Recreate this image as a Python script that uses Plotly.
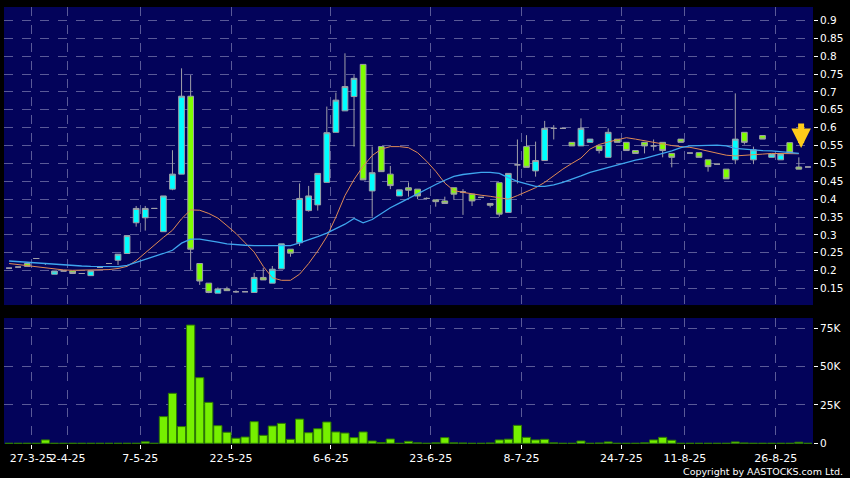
import plotly.graph_objects as go

# trading-day index of each candle
day = list(range(1, 90))

open_ = [0.207, 0.210, 0.220, 0.234, 0.220, 0.190, 0.199, 0.199, 0.192, 0.186,
         0.209, 0.220, 0.229, 0.248, 0.334, 0.348, 0.374, 0.309, 0.428, 0.470,
         0.688, 0.220, 0.165, 0.137, 0.149, 0.141, 0.141, 0.139, 0.181, 0.165,
         0.205, 0.260, 0.278, 0.368, 0.384, 0.447, 0.587, 0.647, 0.687, 0.777,
         0.423, 0.547, 0.470, 0.409, 0.432, 0.428, 0.402, 0.398, 0.395, 0.432,
         0.420, 0.414, 0.405, 0.388, 0.446, 0.363, 0.496, 0.547, 0.479, 0.508,
         0.598, 0.598, 0.559, 0.549, 0.559, 0.549, 0.517, 0.568, 0.559, 0.536,
         0.559, 0.549, 0.559, 0.528, 0.568, 0.529, 0.530, 0.510, 0.498, 0.484,
         0.510, 0.587, 0.510, 0.578, 0.517, 0.510, 0.558, 0.490, 0.490]
high = [0.207, 0.210, 0.220, 0.234, 0.220, 0.199, 0.199, 0.199, 0.192, 0.200,
        0.209, 0.220, 0.246, 0.298, 0.381, 0.381, 0.374, 0.409, 0.537, 0.766,
        0.747, 0.220, 0.165, 0.153, 0.155, 0.145, 0.141, 0.194, 0.208, 0.213,
        0.275, 0.260, 0.444, 0.437, 0.472, 0.659, 0.698, 0.808, 0.747, 0.777,
        0.547, 0.547, 0.493, 0.426, 0.447, 0.428, 0.405, 0.398, 0.407, 0.432,
        0.428, 0.414, 0.405, 0.388, 0.446, 0.472, 0.567, 0.579, 0.561, 0.619,
        0.607, 0.598, 0.559, 0.626, 0.568, 0.549, 0.598, 0.568, 0.559, 0.536,
        0.559, 0.567, 0.559, 0.528, 0.568, 0.529, 0.530, 0.510, 0.498, 0.484,
        0.696, 0.587, 0.547, 0.578, 0.526, 0.526, 0.558, 0.517, 0.490]
low = [0.207, 0.210, 0.212, 0.234, 0.216, 0.190, 0.199, 0.192, 0.192, 0.186,
       0.209, 0.220, 0.216, 0.248, 0.323, 0.312, 0.374, 0.309, 0.425, 0.470,
       0.202, 0.160, 0.137, 0.137, 0.144, 0.138, 0.141, 0.139, 0.174, 0.165,
       0.205, 0.239, 0.269, 0.365, 0.368, 0.447, 0.587, 0.647, 0.547, 0.454,
       0.351, 0.477, 0.428, 0.409, 0.407, 0.400, 0.400, 0.379, 0.388, 0.398,
       0.356, 0.381, 0.405, 0.377, 0.351, 0.363, 0.444, 0.489, 0.463, 0.508,
       0.567, 0.598, 0.549, 0.549, 0.559, 0.528, 0.517, 0.559, 0.536, 0.528,
       0.528, 0.536, 0.517, 0.489, 0.559, 0.529, 0.517, 0.477, 0.498, 0.457,
       0.498, 0.553, 0.498, 0.568, 0.517, 0.510, 0.530, 0.484, 0.490]
close = [0.207, 0.210, 0.212, 0.234, 0.220, 0.199, 0.199, 0.192, 0.192, 0.200,
         0.209, 0.220, 0.246, 0.298, 0.374, 0.374, 0.374, 0.409, 0.470, 0.688,
         0.260, 0.171, 0.139, 0.149, 0.144, 0.141, 0.141, 0.181, 0.174, 0.204,
         0.275, 0.249, 0.402, 0.409, 0.472, 0.586, 0.677, 0.715, 0.738, 0.454,
         0.474, 0.477, 0.438, 0.426, 0.425, 0.409, 0.402, 0.393, 0.388, 0.414,
         0.420, 0.395, 0.405, 0.383, 0.358, 0.472, 0.496, 0.489, 0.508, 0.598,
         0.598, 0.598, 0.549, 0.598, 0.568, 0.536, 0.587, 0.559, 0.536, 0.528,
         0.549, 0.549, 0.536, 0.517, 0.559, 0.529, 0.517, 0.491, 0.498, 0.457,
         0.568, 0.559, 0.538, 0.568, 0.526, 0.526, 0.530, 0.484, 0.490]

volume = [0, 0, 0, 0, 2200, 0, 0, 0, 0, 0,
          0, 0, 0, 0, 0, 1000, 0, 17400, 32600, 10900,
          77100, 42800, 26700, 11500, 7200, 3300, 4100, 14100, 5200, 11300,
          13000, 2600, 15800, 6900, 9500, 13900, 7400, 6700, 3700, 7400,
          1500, 500, 2800, 0, 1300, 300, 0, 300, 3700, 300,
          200, 0, 0, 200, 2200, 2700, 11700, 3900, 2200, 2600,
          300, 0, 0, 1500, 0, 200, 900, 0, 0, 0,
          300, 2200, 3900, 2000, 0, 0, 0, 0, 0, 0,
          900, 200, 0, 0, 0, 0, 0, 700, 0]

ma_short = [0.220, 0.217, 0.213, 0.210, 0.207, 0.204, 0.202, 0.201, 0.201, 0.201,
            0.202, 0.203, 0.206, 0.212, 0.228, 0.250, 0.272, 0.293, 0.313, 0.345,
            0.370, 0.369, 0.360, 0.347, 0.326, 0.304, 0.278, 0.252, 0.212, 0.180,
            0.173, 0.173, 0.190, 0.220, 0.255, 0.295, 0.350, 0.410, 0.455, 0.492,
            0.522, 0.540, 0.547, 0.547, 0.544, 0.530, 0.506, 0.478, 0.445, 0.424,
            0.419, 0.414, 0.411, 0.408, 0.403, 0.400, 0.410, 0.422, 0.432, 0.447,
            0.466, 0.484, 0.500, 0.515, 0.540, 0.553, 0.560, 0.566, 0.572, 0.568,
            0.563, 0.558, 0.554, 0.550, 0.547, 0.545, 0.540, 0.534, 0.528, 0.523,
            0.521, 0.522, 0.524, 0.526, 0.528, 0.528, 0.527, 0.527, None]
ma_long = [0.227, 0.225, 0.223, 0.221, 0.220, 0.218, 0.216, 0.215, 0.213, 0.212,
           0.211, 0.211, 0.211, 0.215, 0.224, 0.232, 0.240, 0.248, 0.257, 0.277,
           0.288, 0.288, 0.285, 0.280, 0.275, 0.272, 0.271, 0.270, 0.270, 0.269,
           0.269, 0.270, 0.278, 0.286, 0.295, 0.305, 0.317, 0.330, 0.346, 0.334,
           0.343, 0.360, 0.376, 0.389, 0.402, 0.415, 0.430, 0.441, 0.453, 0.464,
           0.469, 0.473, 0.475, 0.475, 0.472, 0.460, 0.450, 0.443, 0.436, 0.436,
           0.440, 0.447, 0.455, 0.465, 0.475, 0.482, 0.489, 0.496, 0.503, 0.509,
           0.514, 0.520, 0.528, 0.535, 0.544, 0.549, 0.550, 0.551, 0.551, 0.549,
           0.542, 0.540, 0.537, 0.536, 0.535, 0.533, 0.531, 0.528, None]

tick_pos = [3.45, 7.45, 15.45, 25.45, 36.45, 47.45, 57.45, 68.45, 75.45, 85.45]
tick_labels = ["27-3-25", "2-4-25", "7-5-25", "22-5-25", "6-6-25", "23-6-25",
               "8-7-25", "24-7-25", "11-8-25", "26-8-25"]
price_ticks = [0.15, 0.2, 0.25, 0.3, 0.35, 0.4, 0.45, 0.5, 0.55, 0.6, 0.65,
               0.7, 0.75, 0.8, 0.85, 0.9]
price_tick_labels = ["0.15", "0.2", "0.25", "0.3", "0.35", "0.4", "0.45", "0.5",
                     "0.55", "0.6", "0.65", "0.7", "0.75", "0.8", "0.85", "0.9"]
vol_ticks = [0, 25000, 50000, 75000]
vol_tick_labels = ["0", "25K", "50K", "75K"]

NAVY = "#03035a"
GRID = "#5a5a98"
FONT = "DejaVu Sans"

fig = go.Figure()
fig.add_trace(go.Candlestick(
    x=day, open=open_, high=high, low=low, close=close,
    increasing=dict(fillcolor="#00ffff", line=dict(color="#a0a0a8", width=1)),
    decreasing=dict(fillcolor="#7fff00", line=dict(color="#a0a0a8", width=1)),
    whiskerwidth=0, xaxis="x2", yaxis="y", showlegend=False, hoverinfo="skip"))
fig.add_trace(go.Scatter(x=day, y=ma_short, mode="lines",
                         line=dict(color="#e08a55", width=1),
                         xaxis="x2", yaxis="y", showlegend=False, hoverinfo="skip"))
fig.add_trace(go.Scatter(x=day, y=ma_long, mode="lines",
                         line=dict(color="#3fa6ee", width=1.3),
                         xaxis="x2", yaxis="y", showlegend=False, hoverinfo="skip"))
fig.add_trace(go.Bar(x=day, y=volume, marker=dict(color="#76f000",
                     line=dict(color="#2d7a00", width=1)),
                     xaxis="x", yaxis="y2", showlegend=False, hoverinfo="skip"))

xr = [0.44, 89.56]
common_x = dict(range=xr, showgrid=True, gridcolor=GRID, griddash="dash",
                gridwidth=1, zeroline=False, showline=False,
                tickvals=tick_pos, ticktext=tick_labels, fixedrange=True)

fig.update_layout(
    width=850, height=478,
    margin=dict(l=4, r=37, t=7, b=34),
    paper_bgcolor="#000000", plot_bgcolor=NAVY,
    boxgap=0.1, bargap=0.1,
    font=dict(family=FONT, color="white", size=11),
    xaxis=dict(domain=[0, 1], anchor="y2", ticks="outside", ticklen=4,
               tickcolor="white", tickangle=0,
               tickfont=dict(size=11, color="white"),
               rangeslider=dict(visible=False), **common_x),
    xaxis2=dict(domain=[0, 1], anchor="y", matches="x", showticklabels=False,
                ticks="", rangeslider=dict(visible=False), **common_x),
    yaxis=dict(domain=[0.318, 1], side="right", range=[0.1038, 0.9376],
               tickvals=price_ticks, ticktext=price_tick_labels,
               ticks="outside", ticklen=4, tickcolor="white",
               tickfont=dict(size=10.5, color="white"),
               showgrid=True, gridcolor=GRID, griddash="dash", zeroline=False,
               showline=False, fixedrange=True),
    yaxis2=dict(domain=[0, 0.2883], side="right", range=[-450, 81700],
                tickvals=vol_ticks, ticktext=vol_tick_labels,
                ticks="outside", ticklen=4, tickcolor="white",
                tickfont=dict(size=10.5, color="white"),
                showgrid=True, gridcolor=GRID, griddash="dash", zeroline=False,
                showline=False, fixedrange=True),
)

fig.add_annotation(x=88.25, y=0.543, xref="x2", yref="y", ax=0, ay=-26,
                   showarrow=True, arrowhead=2, arrowsize=0.65, arrowwidth=6,
                   arrowcolor="#ffcc1a", text="")
fig.add_annotation(x=1.0396, y=-0.062, xref="paper", yref="paper",
                   xanchor="right", yanchor="middle", showarrow=False,
                   text="Copyright by AASTOCKS.com Ltd.",
                   font=dict(family=FONT, size=9.5, color="white"))

fig.write_html("out.html", config={"displayModeBar": False},
               post_script="document.body.style.margin='0px';"
                           "document.body.style.padding='0px';")
